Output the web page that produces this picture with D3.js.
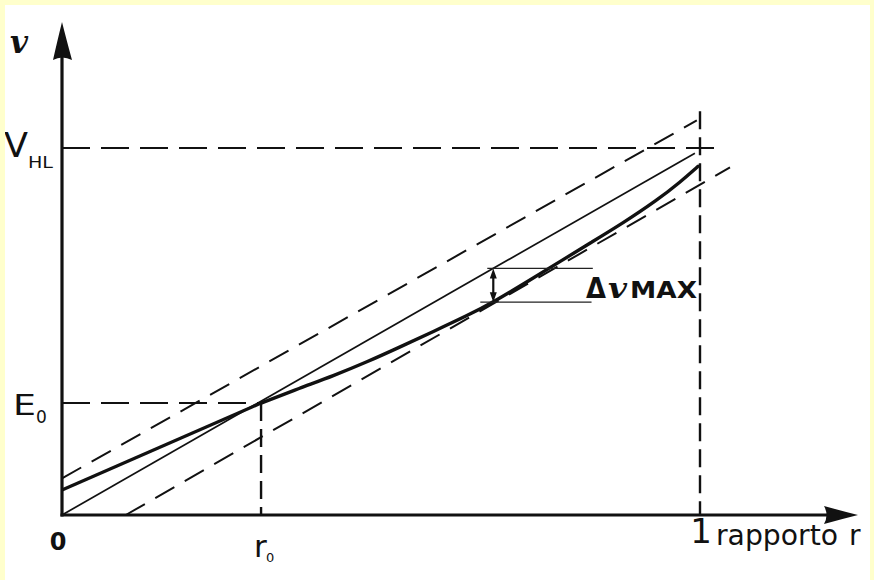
<!DOCTYPE html>
<html>
<head>
<meta charset="utf-8">
<script src="https://cdn.jsdelivr.net/npm/d3@7"></script>
<style>
  html, body { margin: 0; padding: 0; background: #ffffcc; }
  svg { display: block; }
</style>
</head>
<body>
<svg id="chart" width="874" height="580"></svg>
<script>
// Reference levels on the two axes
const R0 = 0.312;      // rapporto r0
const E0 = 0.305;      // tensione E0
const VHL = 1;         // tensione V_HL
const R1 = 1;          // rapporto 1

// Ideal straight characteristic (thin solid)
const idealLine = [[0, 0], [0.992, 0.986]];
// Tolerance band (dashed)
const upperBound = [[0, 0.1], [0.995, 1.075]];
const lowerBound = [[0.1, 0], [1.047, 0.947]];
// Real characteristic: straight start up to (r0, E0) then the curved part
const startSegment = [[0, 0.068], [R0, E0]];
const realCurveR = [0.312, 0.373, 0.425, 0.478, 0.530, 0.582, 0.635, 0.676, 0.734, 0.781, 0.828, 0.879, 0.933, 0.969, 0.997];
const realCurveV = [0.305, 0.346, 0.379, 0.417, 0.458, 0.500, 0.543, 0.580, 0.641, 0.691, 0.741, 0.795, 0.858, 0.907, 0.950];
// Position of the maximum deviation
const deltaR = 0.676;

const W = 874, H = 580;
const svg = d3.select("#chart");

const x = d3.scaleLinear().domain([0, 1]).range([62, 700]);
const y = d3.scaleLinear().domain([0, 1]).range([515, 148]);

// white sheet inside the yellow frame
svg.append("rect").attr("x", 5).attr("y", 5).attr("width", 865).attr("height", H - 5).attr("fill", "#ffffff");

const g = svg.append("g");
const line = d3.line().x(d => x(d[0])).y(d => y(d[1]));

// guide lines
const guideDash = "28,11";
g.append("line")
  .attr("x1", x(0)).attr("x2", x(1) + 18).attr("y1", y(VHL)).attr("y2", y(VHL))
  .attr("stroke", "#111").attr("stroke-width", 2).attr("stroke-dasharray", guideDash);
g.append("line")
  .attr("x1", x(0)).attr("x2", x(R0)).attr("y1", y(E0)).attr("y2", y(E0))
  .attr("stroke", "#111").attr("stroke-width", 2).attr("stroke-dasharray", guideDash);
g.append("line")
  .attr("x1", x(R0)).attr("x2", x(R0)).attr("y1", y(E0)).attr("y2", y(0))
  .attr("stroke", "#111").attr("stroke-width", 2.4).attr("stroke-dasharray", "18,8");
g.append("line")
  .attr("x1", x(R1)).attr("x2", x(R1)).attr("y1", y(1.1)).attr("y2", y(0))
  .attr("stroke", "#111").attr("stroke-width", 2.4).attr("stroke-dasharray", "18,8");

// tolerance band
[upperBound, lowerBound].forEach(d => {
  g.append("path").attr("d", line(d))
    .attr("fill", "none").attr("stroke", "#111").attr("stroke-width", 2)
    .attr("stroke-dasharray", "22,12");
});

// ideal characteristic
g.append("path").attr("d", line(idealLine))
  .attr("fill", "none").attr("stroke", "#111").attr("stroke-width", 1.7);

// real characteristic
g.append("path").attr("d", line(startSegment))
  .attr("fill", "none").attr("stroke", "#111").attr("stroke-width", 3.2);
const realCurve = realCurveR.map((r, i) => [r, realCurveV[i]]);
g.append("path")
  .attr("d", d3.line().x(d => x(d[0])).y(d => y(d[1])).curve(d3.curveBasis)(realCurve))
  .attr("fill", "none").attr("stroke", "#111").attr("stroke-width", 3.4)
  .attr("stroke-linecap", "round");

// maximum deviation marker
const idealAt = r => idealLine[0][1] + (idealLine[1][1] - idealLine[0][1]) * (r - idealLine[0][0]) / (idealLine[1][0] - idealLine[0][0]);
const curveAt = r => {
  const i = d3.bisectLeft(realCurveR, r);
  if (realCurveR[i] === r) return realCurveV[i];
  const t = (r - realCurveR[i - 1]) / (realCurveR[i] - realCurveR[i - 1]);
  return realCurveV[i - 1] + t * (realCurveV[i] - realCurveV[i - 1]);
};
const yTop = y(idealAt(deltaR)), yBot = y(curveAt(deltaR)), xd = x(deltaR);
g.append("line").attr("x1", xd - 6).attr("x2", x(0.832)).attr("y1", yTop).attr("y2", yTop)
  .attr("stroke", "#222").attr("stroke-width", 1.2);
g.append("line").attr("x1", xd - 13).attr("x2", x(0.830)).attr("y1", yBot).attr("y2", yBot)
  .attr("stroke", "#222").attr("stroke-width", 1.2);
g.append("line").attr("x1", xd).attr("x2", xd).attr("y1", yTop + 6).attr("y2", yBot - 6)
  .attr("stroke", "#111").attr("stroke-width", 2.2);
g.append("path")
  .attr("d", `M${xd},${yTop} L${xd - 3.5},${yTop + 10} L${xd + 3.5},${yTop + 10} Z M${xd},${yBot} L${xd - 3.5},${yBot - 10} L${xd + 3.5},${yBot - 10} Z`)
  .attr("fill", "#111");

// axes with arrow heads
const ax = svg.append("g");
ax.append("line").attr("x1", x(0)).attr("x2", x(0)).attr("y1", y(0) + 1.5).attr("y2", 50)
  .attr("stroke", "#111").attr("stroke-width", 3.2);
ax.append("line").attr("x1", x(0) - 1.5).attr("x2", 830).attr("y1", y(0)).attr("y2", y(0))
  .attr("stroke", "#111").attr("stroke-width", 3.2);
const ox = x(0), oy = y(0);
ax.append("path")
  .attr("d", `M${ox},22 Q${ox - 4},38 ${ox - 9},60 Q${ox},55 ${ox + 10},60 Q${ox + 4},38 ${ox},22 Z`)
  .attr("fill", "#111");
ax.append("path")
  .attr("d", `M858,${oy} Q842,${oy - 4} 824,${oy - 9} Q829,${oy} 824,${oy + 9} Q842,${oy + 4} 858,${oy} Z`)
  .attr("fill", "#111");

// labels
const sans = "'DejaVu Sans', sans-serif";
const serif = "'DejaVu Serif', serif";
const lab = svg.append("g").attr("fill", "#111").attr("font-family", sans);
const fit = (sel, len) => sel.attr("textLength", len).attr("lengthAdjust", "spacingAndGlyphs");

lab.append("text").attr("x", 10).attr("y", 53)
  .attr("font-family", serif).attr("font-style", "italic").attr("font-weight", "bold")
  .attr("font-size", 31).text("v");

fit(lab.append("text").attr("x", 4).attr("y", y(VHL) + 9).attr("font-size", 34).text("V"), 24);
fit(lab.append("text").attr("x", 28).attr("y", y(VHL) + 20).attr("font-size", 15).text("HL"), 25);

fit(lab.append("text").attr("x", 13).attr("y", y(E0) + 12).attr("font-size", 28).text("E"), 23);
lab.append("text").attr("x", 36).attr("y", y(E0) + 20).attr("font-size", 17).text("0");

lab.append("text").attr("x", x(0) - 4).attr("y", 550).attr("text-anchor", "middle")
  .attr("font-weight", "bold").attr("font-size", 24).text("0");

lab.append("text").attr("x", x(R0) - 7).attr("y", 557).attr("font-size", 31).text("r");
lab.append("text").attr("x", x(R0) + 5).attr("y", 562).attr("font-size", 13).text("0");

lab.append("text").attr("x", x(R1) + 1).attr("y", 543).attr("text-anchor", "middle")
  .attr("font-size", 34).text("1");
fit(lab.append("text").attr("x", 716).attr("y", 545).attr("font-size", 28).text("rapporto"), 122);
lab.append("text").attr("x", 849).attr("y", 545).attr("font-size", 28).text("r");

const dv = lab.append("g").attr("font-weight", "bold");
fit(dv.append("text").attr("x", 586).attr("y", 298).attr("font-size", 29).text("Δ"), 20);
fit(dv.append("text").attr("x", 608).attr("y", 298).attr("font-family", serif).attr("font-style", "italic")
  .attr("font-size", 27).text("v"), 19);
fit(dv.append("text").attr("x", 630).attr("y", 298).attr("font-size", 23).text("MAX"), 67);

// yellow frame on top
svg.append("path")
  .attr("d", `M0,0 H${W} V${H} H0 Z M5,5 V${H} H870 V5 Z`)
  .attr("fill", "#ffffcc").attr("fill-rule", "evenodd");
</script>
</body>
</html>
